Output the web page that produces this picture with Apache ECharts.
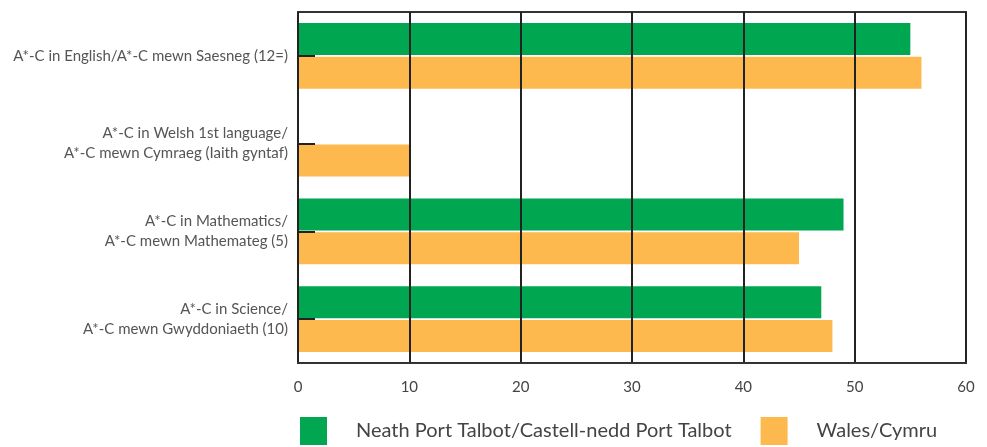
<!DOCTYPE html>
<html><head><meta charset="utf-8">
<script src="https://cdn.jsdelivr.net/npm/echarts@6/dist/echarts.min.js"></script>
<style>html,body{margin:0;padding:0;background:#fff}#c{width:987px;height:447px}</style>
</head><body><div id="c"></div>
<script>
const categories = [
  "A*-C in English/A*-C mewn Saesneg (12=)",
  "A*-C in Welsh 1st language/\nA*-C mewn Cymraeg (Iaith gyntaf)",
  "A*-C in Mathematics/\nA*-C mewn Mathemateg (5)",
  "A*-C in Science/\nA*-C mewn Gwyddoniaeth (10)"
];
const seriesNames = ["Neath Port Talbot/Castell-nedd Port Talbot", "Wales/Cymru"];
const nptValues = [55, null, 49, 47];
const walesValues = [56, 10, 45, 48];
const xTicks = [0, 10, 20, 30, 40, 50, 60];

const chart = echarts.init(document.getElementById('c'));
chart.setOption({
  animation: false,
  textStyle: { fontFamily: 'Lato' },
  grid: { left: 298, right: 21, top: 12, bottom: 84, show: true, borderColor: '#333', borderWidth: 2, backgroundColor: 'transparent' },
  legend: {
    top: 412, left: 295, itemWidth: 27, itemHeight: 28, itemGap: 29,
    icon: 'rect',
    textStyle: { fontSize: 20, color: '#444', padding: [0, 0, 0, 24], fontFamily: 'Lato' },
    data: seriesNames
  },
  xAxis: {
    type: 'value', min: xTicks[0], max: xTicks[xTicks.length - 1], interval: 10, z: 5,
    axisLine: { show: true, lineStyle: { color: '#333', width: 2 } },
    axisTick: { show: false },
    splitLine: { show: true, lineStyle: { color: '#222', width: 2 } },
    axisLabel: { color: '#444', fontSize: 15, margin: 17 }
  },
  yAxis: {
    type: 'category', inverse: true, data: categories, z: 5,
    axisLine: { show: false },
    axisTick: { show: true, inside: true, alignWithLabel: true, length: 17, lineStyle: { color: '#222', width: 2 } },
    axisLabel: { color: '#555', fontSize: 15, lineHeight: 20, margin: 10, align: 'right' }
  },
  series: [
    { name: seriesNames[0], type: 'bar', data: nptValues, barWidth: 32, barGap: '6%',
      itemStyle: { color: '#00A650' } },
    { name: seriesNames[1], type: 'bar', data: walesValues, barWidth: 32, barGap: '6%',
      itemStyle: { color: '#FDB94E' } }
  ]
});
</script></body></html>
